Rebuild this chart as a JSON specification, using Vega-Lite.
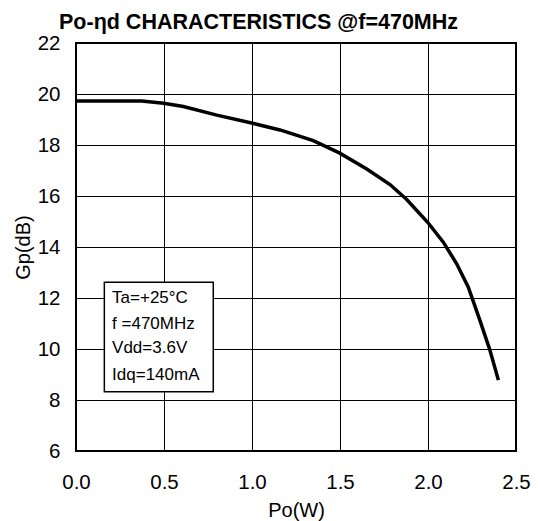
{
  "$schema": "https://vega.github.io/schema/vega-lite/v6.json",
  "width": 440,
  "height": 408,
  "autosize": "none",
  "padding": {"left": 76, "top": 43, "right": 25, "bottom": 70},
  "background": "white",
  "config": {
    "font": "Liberation Sans",
    "view": {"stroke": "black", "strokeWidth": 2},
    "axis": {"grid": true, "gridColor": "black", "gridWidth": 1, "gridOpacity": 1, "domain": false, "ticks": false, "labelFlush": false, "labelFont": "Liberation Sans", "labelFontSize": 20.5, "labelColor": "black", "titleFont": "Liberation Sans", "titleFontSize": 20, "titleFontWeight": "normal", "titleColor": "black"}
  },
  "title": {"text": "Po-ηd CHARACTERISTICS @f=470MHz", "font": "Liberation Sans", "fontSize": 21.5, "fontWeight": "bold", "color": "black", "anchor": "start", "frame": "group", "dx": -17, "offset": 0},
  "datasets": {
    "curve": [
      {"po": 0.0, "gp": 19.73},
      {"po": 0.373, "gp": 19.73},
      {"po": 0.498, "gp": 19.64},
      {"po": 0.61, "gp": 19.51},
      {"po": 0.8, "gp": 19.17},
      {"po": 0.998, "gp": 18.86},
      {"po": 1.159, "gp": 18.59},
      {"po": 1.348, "gp": 18.17},
      {"po": 1.496, "gp": 17.69},
      {"po": 1.652, "gp": 17.06},
      {"po": 1.784, "gp": 16.45},
      {"po": 1.879, "gp": 15.86},
      {"po": 1.998, "gp": 14.97},
      {"po": 2.087, "gp": 14.19},
      {"po": 2.163, "gp": 13.34},
      {"po": 2.229, "gp": 12.42},
      {"po": 2.295, "gp": 11.12},
      {"po": 2.352, "gp": 9.95},
      {"po": 2.4, "gp": 8.78}
    ],
    "box": [{"x1": 0.161, "x2": 0.78, "y1": 12.62, "y2": 8.32}],
    "notes": [
      {"x": 0.205, "y": 12.01, "label": "Ta=+25°C"},
      {"x": 0.205, "y": 11.0, "label": "f =470MHz"},
      {"x": 0.205, "y": 10.02, "label": "Vdd=3.6V"},
      {"x": 0.205, "y": 8.97, "label": "Idq=140mA"}
    ]
  },
  "layer": [
    {
      "data": {"name": "curve"},
      "mark": {"type": "line", "color": "black", "strokeWidth": 3.5, "interpolate": "linear"},
      "encoding": {
        "x": {"field": "po", "type": "quantitative", "scale": {"domain": [0, 2.5], "nice": false}, "axis": {"values": [0, 0.5, 1, 1.5, 2, 2.5], "format": ".1f", "labelPadding": 21, "title": "Po(W)", "titlePadding": 8}},
        "y": {"field": "gp", "type": "quantitative", "scale": {"domain": [6, 22], "nice": false, "zero": false}, "axis": {"values": [6, 8, 10, 12, 14, 16, 18, 20, 22], "labelPadding": 16, "title": "Gp(dB)", "titlePadding": 4}}
      }
    },
    {
      "data": {"name": "box"},
      "mark": {"type": "rect", "fill": "white", "stroke": "black", "strokeWidth": 1.5},
      "encoding": {
        "x": {"field": "x1", "type": "quantitative"},
        "x2": {"field": "x2"},
        "y": {"field": "y1", "type": "quantitative"},
        "y2": {"field": "y2"}
      }
    },
    {
      "data": {"name": "notes"},
      "mark": {"type": "text", "align": "left", "baseline": "middle", "fontSize": 17, "font": "Liberation Sans", "color": "black"},
      "encoding": {
        "x": {"field": "x", "type": "quantitative"},
        "y": {"field": "y", "type": "quantitative"},
        "text": {"field": "label"}
      }
    }
  ]
}
